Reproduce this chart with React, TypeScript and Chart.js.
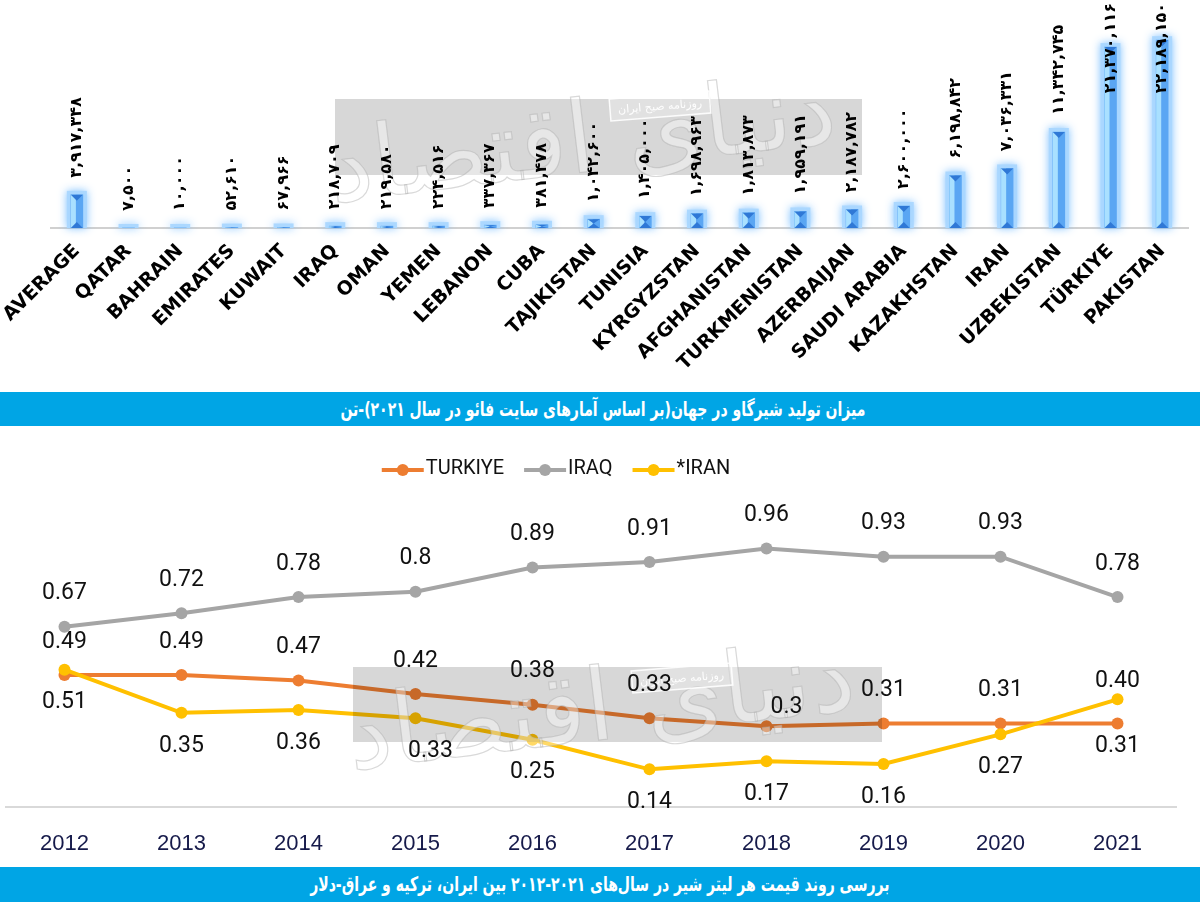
import React, { useEffect, useRef } from "react";
import { Chart, registerables } from "chart.js";
Chart.register(...registerables);

// ---------- Data: top bar chart (milk production 2021, tonnes) ----------
const countries = [
  "AVERAGE", "QATAR", "BAHRAIN", "EMIRATES", "KUWAIT", "IRAQ", "OMAN", "YEMEN",
  "LEBANON", "CUBA", "TAJIKISTAN", "TUNISIA", "KYRGYZSTAN", "AFGHANISTAN",
  "TURKMENISTAN", "AZERBAIJAN", "SAUDI ARABIA", "KAZAKHSTAN", "IRAN",
  "UZBEKISTAN", "TÜRKIYE", "PAKISTAN",
];
const production = [
  3917348, 7500, 10000, 52610, 67966, 218709, 219580, 224516, 337367, 381478,
  1042600, 1405000, 1698963, 1813873, 1959191, 2187782, 2600000, 6198842,
  7036331, 11342745, 21370116, 22189150,
];
const productionMax = 26700000;

// ---------- Data: bottom line chart (price per litre, USD) ----------
const years = ["2012", "2013", "2014", "2015", "2016", "2017", "2018", "2019", "2020", "2021"];
const turkiyePrice = [0.49, 0.49, 0.47, 0.42, 0.38, 0.33, 0.3, 0.31, 0.31, 0.31];
const iraqPrice = [0.67, 0.72, 0.78, 0.8, 0.89, 0.91, 0.96, 0.93, 0.93, 0.78];
const iranPrice = [0.51, 0.35, 0.36, 0.33, 0.25, 0.14, 0.17, 0.16, 0.27, 0.4];
const iranLabels = ["0.51", "0.35", "0.36", "0.33", "0.25", "0.14", "0.17", "0.16", "0.27", "0.40"];
const seriesNames = ["TURKIYE", "IRAQ", "*IRAN"];
const seriesColors = ["#ED7D31", "#A5A5A5", "#FFC000"];
// label side per point: a = above, b = below
const turkiyeSide = ["a", "a", "a", "a", "a", "a", "a", "a", "a", "b"];
const iraqSide = ["a", "a", "a", "a", "a", "a", "a", "a", "a", "a"];
const iranSide = ["b", "b", "b", "b", "b", "b", "b", "b", "b", "a"];

const topTitle = "میزان تولید شیرگاو در جهان(بر اساس آمارهای سایت فائو در سال ۲۰۲۱)-تن";
const bottomTitle = "بررسی روند قیمت هر لیتر شیر در سال‌های ۲۰۲۱-۲۰۱۲ بین ایران، ترکیه و عراق-دلار";
const watermarkSmall = "روزنامه صبح ایران";
const watermarkBig = "دنیای اقتصاد";

const toPersian = (s: string) => s.replace(/\d/g, (d) => "۰۱۲۳۴۵۶۷۸۹"[+d]);
const fmt = (v: number) => toPersian(v.toLocaleString("en-US"));

function drawWatermark(ctx: CanvasRenderingContext2D, x: number, y: number, w: number, h: number, lx: number, ly: number) {
  ctx.save();
  ctx.fillStyle = "rgba(0,0,0,0.155)";
  ctx.fillRect(x, y, w, h);
  ctx.save();
  ctx.translate(x + w * 0.47, y + h * 0.62);
  ctx.rotate(-0.12);
  ctx.font = "100px 'DejaVu Sans'";
  ctx.textAlign = "center";
  ctx.textBaseline = "middle";
  ctx.fillStyle = "rgba(255,255,255,0.4)";
  ctx.fillText(watermarkBig, 0, 0);
  ctx.strokeStyle = "rgba(170,170,170,0.45)";
  ctx.lineWidth = 1.2;
  ctx.strokeText(watermarkBig, 0, 0);
  ctx.restore();
  ctx.save();
  ctx.translate(lx, ly);
  ctx.rotate(-0.08);
  ctx.font = "11px 'DejaVu Sans'";
  ctx.textAlign = "center";
  ctx.textBaseline = "middle";
  const tw = ctx.measureText(watermarkSmall).width;
  ctx.fillStyle = "rgba(255,255,255,0.25)";
  ctx.fillRect(-tw / 2 - 8, -11, tw + 16, 22);
  ctx.strokeStyle = "rgba(255,255,255,0.9)";
  ctx.lineWidth = 1.5;
  ctx.strokeRect(-tw / 2 - 8, -11, tw + 16, 22);
  ctx.fillStyle = "rgba(255,255,255,0.95)";
  ctx.fillText(watermarkSmall, 0, 1);
  ctx.restore();
  ctx.restore();
}

const barPlugin = {
  id: "barDeco",
  beforeDatasetsDraw(chart: any) {
    const ctx = chart.ctx as CanvasRenderingContext2D;
    const meta = chart.getDatasetMeta(0);
    ctx.save();
    for (const bar of meta.data) {
      const w = bar.width;
      ctx.shadowColor = "rgba(110,185,255,0.95)";
      ctx.shadowBlur = 8;
      ctx.fillStyle = "rgba(170,215,255,0.95)";
      ctx.fillRect(bar.x - w / 2 - 4, bar.y - 4, w + 8, bar.base - bar.y + 4);
    }
    ctx.restore();
  },
  afterDatasetsDraw(chart: any) {
    const ctx = chart.ctx as CanvasRenderingContext2D;
    const meta = chart.getDatasetMeta(0);
    ctx.save();
    for (const bar of meta.data) {
      const w = bar.width;
      const left = bar.x - w / 2;
      const h = bar.base - bar.y;
      ctx.fillStyle = "#a9e0ff";
      ctx.fillRect(left, bar.y, w * 0.42, h);
      const th = Math.min(6, h / 2);
      ctx.fillStyle = "#2f78d6";
      ctx.beginPath();
      ctx.moveTo(left, bar.y);
      ctx.lineTo(left + w, bar.y);
      ctx.lineTo(bar.x, bar.y + th);
      ctx.closePath();
      ctx.fill();
      ctx.beginPath();
      ctx.moveTo(left, bar.base);
      ctx.lineTo(left + w, bar.base);
      ctx.lineTo(bar.x, bar.base - th);
      ctx.closePath();
      ctx.fill();
    }
    ctx.restore();
  },
  afterDraw(chart: any) {
    const ctx = chart.ctx as CanvasRenderingContext2D;
    drawWatermark(ctx, 335, 99, 527, 76, 660, 106);
    const meta = chart.getDatasetMeta(0);
    const top = chart.chartArea.top;
    meta.data.forEach((bar: any, i: number) => {
      const txt = fmt(production[i]);
      ctx.save();
      ctx.font = "bold 16px 'DejaVu Sans'";
      const tw = ctx.measureText(txt).width;
      const start = Math.max(bar.y - 17, top + tw + 1);
      ctx.translate(bar.x, start);
      ctx.rotate(-Math.PI / 2);
      ctx.fillStyle = "#000";
      ctx.textAlign = "left";
      ctx.textBaseline = "middle";
      ctx.fillText(txt, 0, 0);
      ctx.restore();
    });
  },
};

const sides = [turkiyeSide, iraqSide, iranSide];
const labelTexts = [
  turkiyePrice.map((v) => String(v)),
  iraqPrice.map((v) => String(v)),
  iranLabels,
];

const linePlugin = {
  id: "lineDeco",
  afterDraw(chart: any) {
    const ctx = chart.ctx as CanvasRenderingContext2D;
    drawWatermark(ctx, 353, 227, 529, 75, 682, 238);
    ctx.save();
    ctx.font = "23px Roboto";
    ctx.fillStyle = "#111";
    ctx.textAlign = "center";
    ctx.textBaseline = "middle";
    for (let d = 0; d < 3; d++) {
      const meta = chart.getDatasetMeta(d);
      meta.data.forEach((pt: any, i: number) => {
        const above = sides[d][i] === "a";
        let dy = above ? -33 : 33;
        let dx = 0;
        if (d === 0 && i === 6) { dy = -19; dx = 20; }
        if (d === 2 && i === 3) { dx = 15; }
        if (d === 2 && i === 9) { dy = -18; }
        if (d === 0 && i === 9) { dy = 23; }
        ctx.fillText(labelTexts[d][i], pt.x + dx, pt.y + dy);
      });
    }
    ctx.restore();
    // legend
    ctx.save();
    ctx.font = "20px Roboto";
    ctx.textBaseline = "middle";
    ctx.textAlign = "left";
    const symW = 42;
    const widths = seriesNames.map((n) => symW + 2 + ctx.measureText(n).width);
    const total = widths.reduce((a, b) => a + b, 0) + 20 * (seriesNames.length - 1);
    let x = 556 - total / 2;
    const y = 29;
    seriesNames.forEach((n, i) => {
      ctx.strokeStyle = seriesColors[i];
      ctx.fillStyle = seriesColors[i];
      ctx.lineWidth = 4;
      ctx.beginPath();
      ctx.moveTo(x, y + 1);
      ctx.lineTo(x + symW, y + 1);
      ctx.stroke();
      ctx.beginPath();
      ctx.arc(x + symW / 2, y + 1, 6, 0, Math.PI * 2);
      ctx.fill();
      ctx.fillStyle = "#111";
      ctx.fillText(n, x + symW + 2, y);
      x += widths[i] + 20;
    });
    ctx.restore();
  },
};

function TopChart() {
  const ref = useRef<HTMLCanvasElement>(null);
  useEffect(() => {
    const chart = new Chart(ref.current!, {
      type: "bar",
      data: {
        labels: countries,
        datasets: [
          {
            data: production,
            backgroundColor: "#5aa6f3",
            borderWidth: 0,
            barThickness: 12,
          },
        ],
      },
      options: {
        responsive: false,
        animation: false,
        layout: { padding: { left: 51, right: 12, top: 2, bottom: 0 } },
        plugins: { legend: { display: false }, tooltip: { enabled: false } },
        scales: {
          x: {
            grid: { display: false },
            border: { display: true, color: "#d0d0d0", width: 2 },
            ticks: {
              autoSkip: false,
              minRotation: 45,
              maxRotation: 45,
              color: "#000",
              padding: 4,
              font: { family: "'DejaVu Sans'", size: 19, weight: "bold" },
            },
            afterFit(s: any) {
              s.height = 157;
              s.paddingLeft = 0;
              s.paddingRight = 0;
            },
          },
          y: { display: false, min: 0, max: productionMax },
        },
      },
      plugins: [barPlugin],
    } as any);
    return () => chart.destroy();
  }, []);
  return <canvas ref={ref} width={1200} height={385} style={{ position: "absolute", left: 0, top: 0 }} />;
}

function BottomChart() {
  const ref = useRef<HTMLCanvasElement>(null);
  useEffect(() => {
    const mk = (i: number, data: number[], order: number) => ({
      label: seriesNames[i],
      data,
      borderColor: seriesColors[i],
      backgroundColor: seriesColors[i],
      pointBackgroundColor: seriesColors[i],
      pointBorderWidth: 0,
      pointRadius: 6,
      borderWidth: 4,
      tension: 0,
      order,
    });
    const chart = new Chart(ref.current!, {
      type: "line",
      data: {
        labels: years,
        datasets: [mk(0, turkiyePrice, 2), mk(1, iraqPrice, 3), mk(2, iranPrice, 1)],
      },
      options: {
        responsive: false,
        animation: false,
        layout: { padding: { left: 3, right: 24, top: 44, bottom: 0 } },
        plugins: { legend: { display: false }, tooltip: { enabled: false } },
        scales: {
          x: {
            offset: true,
            grid: { display: false, drawTicks: false },
            border: { display: true, color: "#d9d9d9", width: 2 },
            ticks: {
              color: "#161a4a",
              padding: 24,
              font: { family: "'Liberation Sans'", size: 22 },
            },
            afterFit(s: any) {
              s.height = 59;
              s.paddingLeft = 0;
              s.paddingRight = 0;
            },
          },
          y: { display: false, min: 0, max: 1.2 },
        },
      },
      plugins: [linePlugin],
    } as any);
    return () => chart.destroy();
  }, []);
  return <canvas ref={ref} width={1200} height={426} style={{ position: "absolute", left: 0, top: 440 }} />;
}

const bannerStyle = (top: number, h: number): React.CSSProperties => ({
  position: "absolute",
  left: 0,
  top,
  width: 1200,
  height: h,
  background: "#00a5e5",
  color: "#fff",
  display: "flex",
  alignItems: "center",
  justifyContent: "center",
  fontFamily: "'DejaVu Sans'",
  fontWeight: "bold",
  fontSize: 20,
  direction: "rtl",
  whiteSpace: "nowrap",
});

export default function App() {
  return (
    <div style={{ position: "fixed", left: 0, top: 0, width: 1200, height: 902, background: "#fff", overflow: "hidden" }}>
      <TopChart />
      <div style={bannerStyle(392, 34)}>
        <span style={{ display: "inline-block", transform: "scaleX(0.7)", marginLeft: 6 }}>{topTitle}</span>
      </div>
      <BottomChart />
      <div style={bannerStyle(867, 35)}>
        <span style={{ display: "inline-block", transform: "scaleX(0.7)", marginTop: -2 }}>{bottomTitle}</span>
      </div>
    </div>
  );
}
